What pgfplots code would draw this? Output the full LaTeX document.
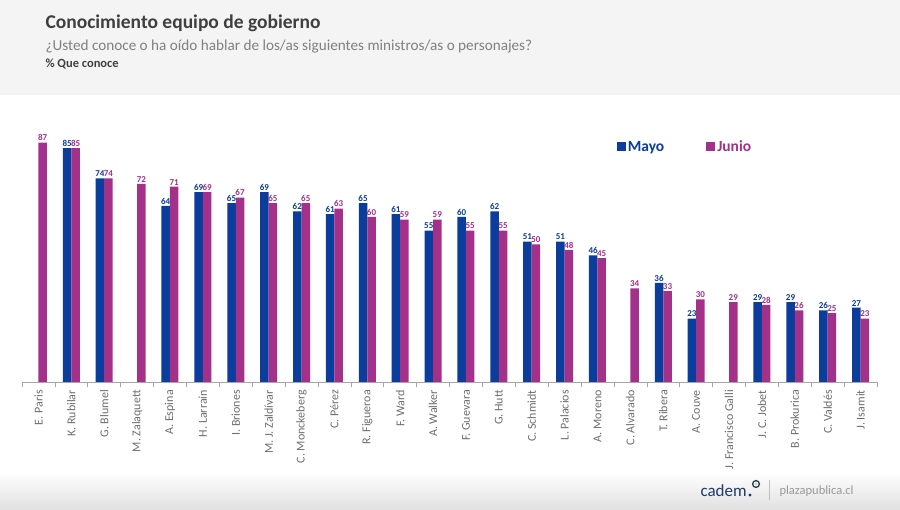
\documentclass[border=0pt]{standalone}
\usepackage{pgfplots}
\pgfplotsset{compat=1.18}
\usepackage{fontspec}
\setmainfont{Carlito}
\definecolor{mayo}{HTML}{0A3D9C}
\definecolor{junio}{HTML}{A33089}
\definecolor{tickgray}{HTML}{6E6E6E}
\definecolor{headbg}{HTML}{F4F4F5}
\definecolor{titlegray}{HTML}{3F3F3F}
\definecolor{subgray}{HTML}{808080}
\definecolor{cademblue}{HTML}{1F3A6B}
\begin{document}
\begin{tikzpicture}
\useasboundingbox (0pt,0pt) rectangle (900pt,510pt);
\fill[white] (0pt,0pt) rectangle (900pt,510pt);
\fill[headbg] (0pt,415pt) rectangle (900pt,510pt);
\shade[top color=white, bottom color=black!12] (0pt,0pt) rectangle (900pt,38pt);
\node[anchor=west, text=titlegray, font=\bfseries\fontsize{19.5}{22}\selectfont] at (42pt,487pt) {Conocimiento equipo de gobierno};
\node[anchor=west, text=subgray, font=\fontsize{15.2}{17}\selectfont] at (42pt,463pt) {¿Usted conoce o ha oído hablar de los/as siguientes ministros/as o personajes?};
\node[anchor=west, text=titlegray, font=\bfseries\fontsize{12.5}{14}\selectfont] at (42pt,446pt) {\% Que conoce};
\begin{axis}[
  at={(22pt,128pt)}, anchor=south west,
  scale only axis, width=855pt, height=275pt,
  ymin=0, ymax=100, xmin=-0.5, xmax=25.5,
  ybar=0pt, bar width=8.5pt,
  axis y line=none, axis x line*=bottom,
  x axis line style={-, draw=black!35, line width=0.8pt},
  xtick={0,...,25},
  xticklabels={E. Paris, K. Rubilar, G. Blumel, M. Zalaquett, A. Espina, H. Larraín, I. Briones, M. J. Zaldívar, C. Monckeberg, C. Pérez, R. Figueroa, F. Ward, A. Walker, F. Guevara, G. Hutt, C. Schmidt, L. Palacios, A. Moreno, C. Alvarado, T. Ribera, A. Couve, J. Francisco Galli, J. C. Jobet, B. Prokurica, C. Valdés, J. Isamit},
  major tick length=0pt,
  minor xtick={-0.5,0.5,...,25.5},
  minor tick length=5pt, tick align=outside,
  minor x tick style={draw=black!35, line width=0.6pt},
  xticklabel style={rotate=90, anchor=east, font=\fontsize{12}{13}\selectfont, text=tickgray, inner sep=2pt, xshift=-6pt},
  /pgf/number format/assume math mode=true,
  nodes near coords,
  nodes near coords style={font=\bfseries\fontsize{9}{10}\selectfont, inner sep=1.5pt},
  legend style={at={(rel axis cs:0.692,0.855)}, anchor=west, draw=none, fill=none, legend columns=2, font=\bfseries\fontsize{15.5}{17}\selectfont, /tikz/every even column/.append style={column sep=40pt}},
  legend image code/.code={\fill[#1] (0pt,-4.5pt) rectangle (9pt,4.5pt);},
]
\addplot[fill=mayo, draw=none, every node near coord/.append style={text=mayo}] coordinates {
(1,85)(2,74)(4,64)(5,69)(6,65)(7,69)(8,62)(9,61)(10,65)(11,61)(12,55)(13,60)(14,62)(15,51)(16,51)(17,46)(19,36)(20,23)(22,29)(23,29)(24,26)(25,27)};
\addlegendentry{\textcolor{mayo}{Mayo}}
\addplot[fill=junio, draw=none, every node near coord/.append style={text=junio}] coordinates {
(0,87)(1,85)(2,74)(3,72)(4,71)(5,69)(6,67)(7,65)(8,65)(9,63)(10,60)(11,59)(12,59)(13,55)(14,55)(15,50)(16,48)(17,45)(18,34)(19,33)(20,30)(21,29)(22,28)(23,26)(24,25)(25,23)};
\addlegendentry{\textcolor{junio}{Junio}}
\end{axis}
% footer
\node[anchor=west, text=cademblue, font=\fontsize{17}{18}\selectfont] at (697pt,19pt) {cadem};
\fill[cademblue] (750pt,15pt) circle (1.6pt);
\draw[cademblue, line width=1.3pt] (756pt,26pt) circle (3.4pt);
\fill[yellow!80!orange] (756pt,26pt) circle (1.3pt);
\draw[black!25, line width=0.6pt] (769pt,10pt) -- (769pt,30pt);
\node[anchor=west, text=black!40, font=\fontsize{12.5}{14}\selectfont] at (776pt,19pt) {plazapublica.cl};
\end{tikzpicture}
\end{document}
